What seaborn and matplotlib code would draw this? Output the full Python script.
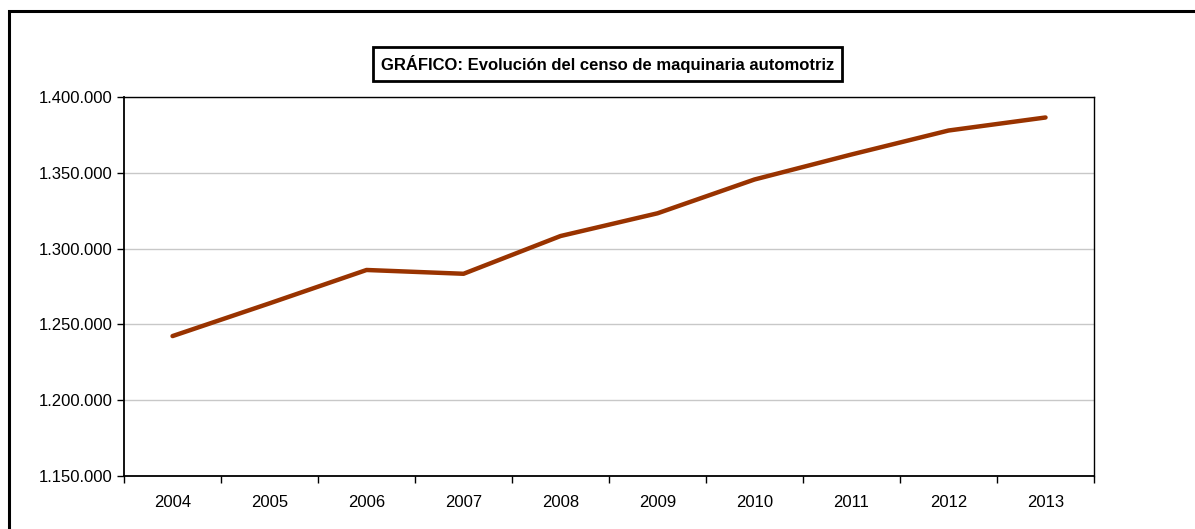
import numpy as np
import pandas as pd
import seaborn as sns
from matplotlib import pyplot as plt
from matplotlib.patches import Rectangle
from matplotlib.ticker import FuncFormatter

# valores
years = ["2004", "2005", "2006", "2007", "2008", "2009", "2010", "2011", "2012", "2013"]
censo = [1242300, 1263900, 1285900, 1283400, 1308300, 1323300, 1345600, 1362100, 1377900, 1386500]

df = pd.DataFrame({"pos": np.arange(len(years)), "Censo": censo})

sns.set_style("white")
plt.rcParams["font.family"] = ["Liberation Sans", "DejaVu Sans"]
plt.rcParams["text.color"] = "black"
plt.rcParams["xtick.color"] = "black"
plt.rcParams["ytick.color"] = "black"

fig = plt.figure(figsize=(11.95, 5.29), dpi=100)
ax = fig.add_axes([0.1038, 0.1002, 0.8117, 0.7164])

sns.lineplot(data=df, x="pos", y="Censo", ax=ax, color="#993300", linewidth=3.2,
             solid_capstyle="round")

ax.set_ylim(1150000, 1400000)
ax.set_yticks(np.arange(1150000, 1400001, 50000))
ax.yaxis.set_major_formatter(FuncFormatter(lambda v, p: f"{v:,.0f}".replace(",", ".")))
ax.grid(axis="y", color="#c8c8c8", linewidth=1)
ax.set_axisbelow(True)

ax.set_xlim(-0.5, len(years) - 0.5)
ax.set_xticks(np.arange(-0.5, len(years), 1))
ax.set_xticklabels([])
ax.set_xticks(np.arange(len(years)), minor=True)
ax.set_xticklabels(years, minor=True)
ax.tick_params(axis="x", which="major", direction="out", length=5, width=1)
ax.tick_params(axis="x", which="minor", length=0, pad=14, labelsize=12)
ax.tick_params(axis="y", direction="out", length=5, width=1, labelsize=12, pad=3)
ax.tick_params(left=True, bottom=True)

for s in ax.spines.values():
    s.set_color("black")
    s.set_linewidth(1)
ax.spines["left"].set_linewidth(1.3)
ax.spines["bottom"].set_linewidth(1.3)

ax.set_xlabel("")
ax.set_ylabel("")

fig.text(0.5084, 0.879, "GRÁFICO: Evolución del censo de maquinaria automotriz",
         ha="center", va="center", fontsize=12, fontweight="bold",
         bbox=dict(boxstyle="square,pad=0.5", facecolor="white", edgecolor="black", linewidth=2))

# marco exterior del grafico (recortado a derecha y abajo)
top = 1 - 11 / 529
fig.add_artist(Rectangle((9 / 1195, -0.2), 1.5, top + 0.2, transform=fig.transFigure,
                         fill=False, edgecolor="black", linewidth=2.2))

plt.savefig("out.png", dpi=100)
plt.close()
